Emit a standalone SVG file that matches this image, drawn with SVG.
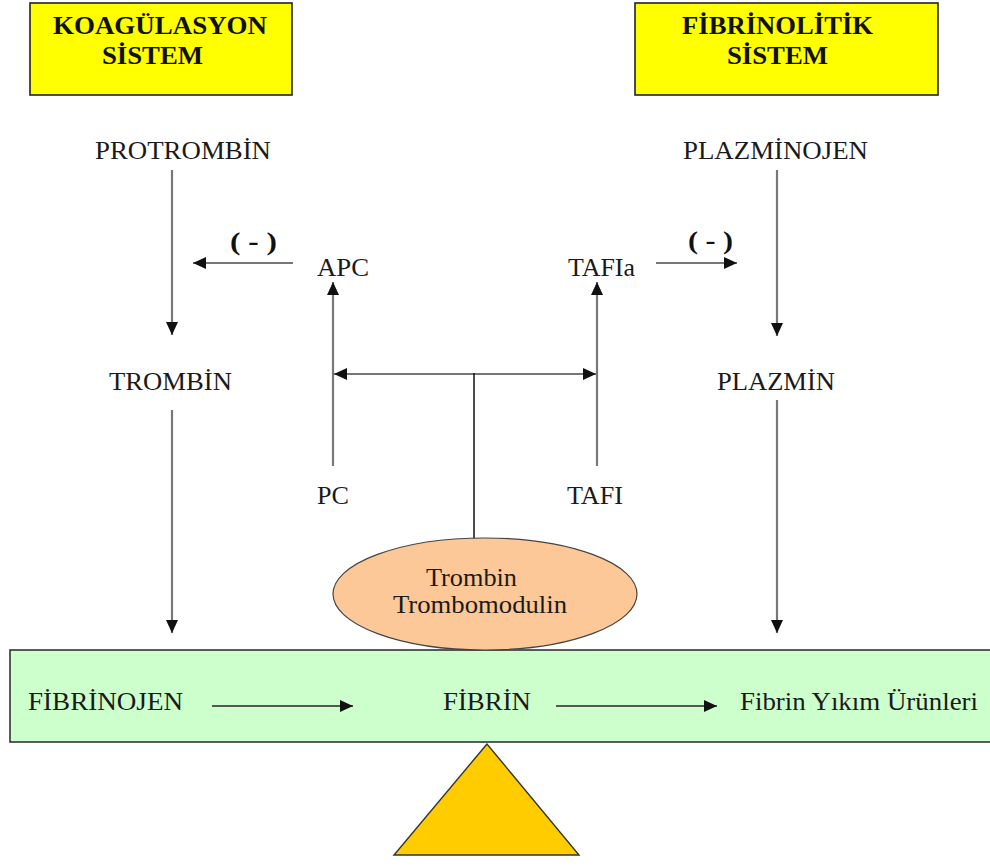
<svg xmlns="http://www.w3.org/2000/svg" width="990" height="866" viewBox="0 0 990 866">
  <style>
    text { font-family: "Liberation Serif", "Times New Roman", Times, serif; font-size: 26px; fill: #1a1a1a; }
    .b { font-weight: bold; fill: #111; }
    .hdr { fill: #ffff00; stroke: #222; stroke-width: 1.6; }
    .ln { fill: none; stroke: #777; stroke-width: 2.2; }
    .lk { fill: none; stroke: #111; stroke-width: 1.5; }
    .lg { fill: none; stroke: #555; stroke-width: 2.2; }
  </style>
  <defs>
    <marker id="ah" markerUnits="userSpaceOnUse" markerWidth="14" markerHeight="12" refX="13" refY="6" orient="auto">
      <path d="M0,0 L13,6 L0,12 Z" fill="#111"/>
    </marker>
  </defs>

  <!-- balance beam and fulcrum -->
  <rect id="beam" x="10" y="650" width="1000" height="92" fill="#ccffcc" stroke="#333" stroke-width="1.6"/>
  <polygon id="fulcrum" points="487,744 394,855 579,855" fill="#ffcc00" stroke="#333" stroke-width="1.4"/>

  <!-- system headers -->
  <g id="koagulasyon">
    <rect class="hdr" x="30" y="3" width="262" height="92"/>
    <text class="b" x="53" y="34" textLength="214" lengthAdjust="spacingAndGlyphs">KOAGÜLASYON</text>
    <text class="b" x="102" y="64" textLength="101" lengthAdjust="spacingAndGlyphs">SİSTEM</text>
  </g>
  <g id="fibrinolitik">
    <rect class="hdr" x="635" y="3" width="303" height="92"/>
    <text class="b" x="682" y="34" textLength="191" lengthAdjust="spacingAndGlyphs">FİBRİNOLİTİK</text>
    <text class="b" x="727" y="64" textLength="101" lengthAdjust="spacingAndGlyphs">SİSTEM</text>
  </g>

  <!-- connectors -->
  <g id="connectors">
    <line class="ln" x1="172" y1="170" x2="172" y2="335" marker-end="url(#ah)"/>
    <line class="ln" x1="172" y1="410" x2="172" y2="633" marker-end="url(#ah)"/>
    <line class="ln" x1="777" y1="170" x2="777" y2="336" marker-end="url(#ah)"/>
    <line class="ln" x1="777" y1="400" x2="777" y2="633" marker-end="url(#ah)"/>
    <line class="ln" x1="293" y1="263" x2="193" y2="263" marker-end="url(#ah)"/>
    <line class="ln" x1="656" y1="263" x2="737" y2="263" marker-end="url(#ah)"/>
    <line class="ln" x1="333" y1="466" x2="333" y2="282" marker-end="url(#ah)"/>
    <line class="ln" x1="597" y1="466" x2="597" y2="282" marker-end="url(#ah)"/>
    <line class="ln" x1="474" y1="374" x2="334" y2="374" marker-end="url(#ah)"/>
    <line class="ln" x1="474" y1="374" x2="596" y2="374" marker-end="url(#ah)"/>
    <line class="lk" x1="474" y1="373" x2="474" y2="539"/>
    <line class="lg" x1="212" y1="706" x2="353" y2="706" marker-end="url(#ah)"/>
    <line class="lg" x1="556" y1="706" x2="717" y2="706" marker-end="url(#ah)"/>
  </g>

  <!-- inhibition labels -->
  <text class="b" x="230" y="250" textLength="47" lengthAdjust="spacingAndGlyphs">( - )</text>
  <text class="b" x="688" y="249" textLength="45" lengthAdjust="spacingAndGlyphs">( - )</text>

  <!-- nodes -->
  <g id="protrombin"><text x="95" y="159" textLength="176" lengthAdjust="spacingAndGlyphs">PROTROMBİN</text></g>
  <g id="trombin"><text x="109" y="390" textLength="123" lengthAdjust="spacingAndGlyphs">TROMBİN</text></g>
  <g id="plazminojen"><text x="683" y="159" textLength="185" lengthAdjust="spacingAndGlyphs">PLAZMİNOJEN</text></g>
  <g id="plazmin"><text x="717" y="390" textLength="118" lengthAdjust="spacingAndGlyphs">PLAZMİN</text></g>
  <g id="apc"><text x="317" y="276" textLength="52" lengthAdjust="spacingAndGlyphs">APC</text></g>
  <g id="tafia"><text x="568" y="276" textLength="67" lengthAdjust="spacingAndGlyphs">TAFIa</text></g>
  <g id="pc"><text x="317" y="504" textLength="32" lengthAdjust="spacingAndGlyphs">PC</text></g>
  <g id="tafi"><text x="567" y="504" textLength="56" lengthAdjust="spacingAndGlyphs">TAFI</text></g>
  <g id="trombin-trombomodulin">
    <ellipse cx="485" cy="594" rx="152" ry="56" fill="#fcc898" stroke="#444" stroke-width="1.2"/>
    <text x="426" y="586" textLength="91" lengthAdjust="spacingAndGlyphs">Trombin</text>
    <text x="393" y="613" textLength="174" lengthAdjust="spacingAndGlyphs">Trombomodulin</text>
  </g>
  <g id="fibrinojen"><text x="28" y="710" textLength="155" lengthAdjust="spacingAndGlyphs">FİBRİNOJEN</text></g>
  <g id="fibrin"><text x="443" y="710" textLength="88" lengthAdjust="spacingAndGlyphs">FİBRİN</text></g>
  <g id="fyu"><text x="740" y="710" textLength="238" lengthAdjust="spacingAndGlyphs">Fibrin Yıkım Ürünleri</text></g>
</svg>
